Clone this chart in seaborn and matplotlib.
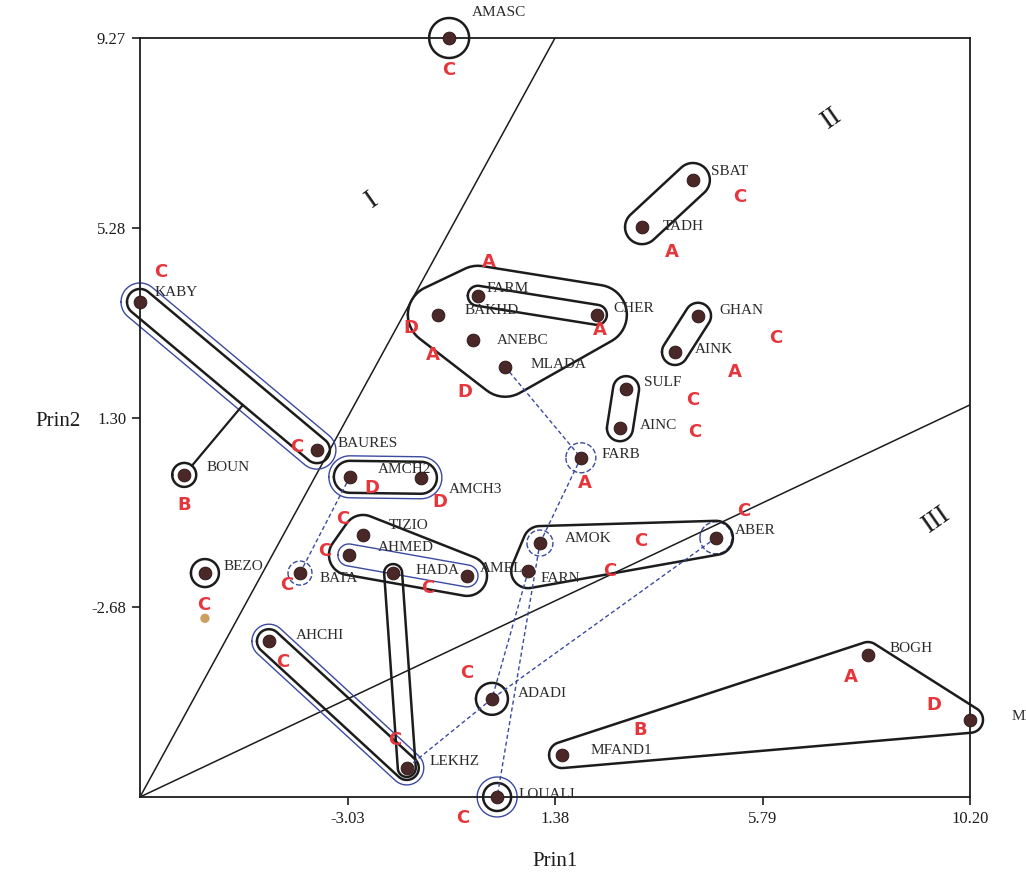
import numpy as np
import pandas as pd
import seaborn as sns
import matplotlib.pyplot as plt

# principal component scores
sites = ['AMASC', 'SBAT', 'TADH', 'KABY', 'FARM', 'BAKHD', 'ANEBC', 'MLADA',
         'CHER', 'GHAN', 'AINK', 'SULF', 'AINC', 'FARB', 'BAURES', 'BOUN',
         'AMCH2', 'AMCH3', 'TIZIO', 'AHMED', 'BATA', 'BEZO', 'HADA', 'AMEL',
         'AMOK', 'FARN', 'ABER', 'AHCHI', 'ADADI', 'BOGH', 'MFAND2', 'MFAND1',
         'LEKHZ', 'LOUALI']
prin1 = [-0.87, 4.31, 3.23, -7.44, -0.26, -1.11, -0.36, 0.32,
         2.27, 4.42, 3.93, 2.89, 2.76, 1.93, -3.68, -6.50,
         -2.98, -1.47, -2.70, -3.00, -4.04, -6.06, -2.06, -0.49,
         1.06, 0.81, 4.80, -4.70, 0.04, 8.03, 10.20, 1.53,
         -1.77, 0.15]
prin2 = [9.27, 6.29, 5.30, 3.73, 3.86, 3.46, 2.93, 2.37,
         3.46, 3.44, 2.68, 1.90, 1.08, 0.46, 0.62, 0.10,
         0.06, 0.04, -1.16, -1.58, -1.96, -1.96, -1.96, -2.02,
         -1.33, -1.92, -1.22, -3.39, -4.60, -3.68, -5.04, -5.78,
         -6.05, -6.66]
# hand written class letters (red)
grade = ['C', 'C', 'A', 'C', 'A', 'D', 'A', 'D',
         'A', 'C', 'A', 'C', 'C', 'A', 'C', 'B',
         'D', 'D', 'C', 'C', 'C', 'C', 'C', '',
         'C', 'C', 'C', 'C', 'C', 'A', 'D', 'B',
         'C', 'C']

xticks = [-3.03, 1.38, 5.79, 10.20]
yticks = [-2.68, 1.30, 5.28, 9.27]
xlim = (-7.44, 10.20)
ylim = (-6.66, 9.27)

# hand drawn dividing lines and zone numerals
zone_line_x = [[-7.44, 1.38], [-7.44, 10.20]]
zone_line_y = [[-6.66, 9.27], [-6.66, 1.57]]
zone_names = ['I', 'II', 'III']
zone_x = [-2.51, 7.27, 9.50]
zone_y = [5.87, 7.59, -0.85]

# hand drawn groupings (by site name)
black_groups = [['AMASC'], ['SBAT', 'TADH'], ['KABY', 'BAURES'], ['BOUN'],
                ['BAKHD', 'FARM', 'ANEBC', 'MLADA', 'CHER'], ['FARM', 'CHER'],
                ['GHAN', 'AINK'], ['SULF', 'AINC'], ['AMCH2', 'AMCH3'],
                ['TIZIO', 'AHMED', 'AMEL'], ['BEZO'], ['AMOK', 'FARN', 'ABER'],
                ['AHCHI', 'LEKHZ'], ['HADA', 'LEKHZ'], ['ADADI'], ['LOUALI'],
                ['BOGH', 'MFAND2', 'MFAND1']]
black_radius = [20, 17, 13, 12, 30, 10, 13, 13, 16, 20, 14, 17, 12, 9, 16, 14, 13]
blue_groups = [['KABY', 'BAURES'], ['AMCH2', 'AMCH3'], ['AHMED', 'AMEL'],
               ['AHCHI', 'LEKHZ'], ['LOUALI'], ['FARB'], ['BATA'], ['ABER'], ['AMOK']]
blue_radius = [19, 21, 11, 17, 20, 15, 12, 16, 13]
dashed_links = [['MLADA', 'FARB'], ['FARB', 'AMOK'], ['AMOK', 'LOUALI'],
                ['ABER', 'ADADI'], ['AMCH2', 'BATA'], ['FARN', 'ADADI'],
                ['ADADI', 'LEKHZ']]
# BOUN loop hangs off the KABY-BAURES loop
tails = [['BOUN', 'KABY', 'BAURES']]

df = pd.DataFrame({'site': sites, 'Prin1': prin1, 'Prin2': prin2, 'grade': grade})

# label / letter offsets in pixels (dx right, dy down)
label_off = {'AMASC': (23, -26), 'SBAT': (18, -8), 'TADH': (21, -1), 'KABY': (15, -9),
             'FARM': (9, -7), 'BAKHD': (27, -4), 'ANEBC': (24, 0), 'MLADA': (25, -2),
             'CHER': (16, -6), 'GHAN': (21, -5), 'AINK': (20, -2), 'SULF': (18, -7),
             'AINC': (20, -3), 'FARB': (21, -3), 'BAURES': (21, -7), 'BOUN': (22, -7),
             'AMCH2': (28, -7), 'AMCH3': (28, 12), 'TIZIO': (26, -9), 'AHMED': (29, -7),
             'BATA': (20, 5), 'BEZO': (19, -7), 'HADA': (22, -3), 'AMEL': (13, -7),
             'AMOK': (25, -5), 'FARN': (12, 7), 'ABER': (19, -7), 'AHCHI': (27, -6),
             'ADADI': (26, -5), 'BOGH': (22, -7), 'MFAND2': (42, -3), 'MFAND1': (28, -5),
             'LEKHZ': (23, -6), 'LOUALI': (21, -3)}
letter_off = {'AMASC': (0, 32), 'SBAT': (47, 17), 'TADH': (30, 25), 'KABY': (21, -30),
              'FARM': (11, -34), 'BAKHD': (-27, 13), 'ANEBC': (-40, 15), 'MLADA': (-40, 25),
              'CHER': (3, 15), 'GHAN': (78, 22), 'AINK': (60, 20), 'SULF': (67, 11),
              'AINC': (75, 4), 'FARB': (4, 25), 'BAURES': (-20, -3), 'BOUN': (0, 30),
              'AMCH2': (22, 11), 'AMCH3': (19, 24), 'TIZIO': (-20, -16), 'AHMED': (-24, -4),
              'BATA': (-13, 12), 'BEZO': (-1, 32), 'HADA': (35, 15), 'AMOK': (101, -2),
              'FARN': (82, 0), 'ABER': (28, -27), 'AHCHI': (14, 21), 'ADADI': (-25, -26),
              'BOGH': (-17, 22), 'MFAND2': (-36, -15), 'MFAND1': (78, -25),
              'LEKHZ': (-12, -28), 'LOUALI': (-34, 21)}

sns.set_style('white')
plt.rcParams['font.family'] = ['Liberation Serif', 'DejaVu Serif']

fig = plt.figure(figsize=(10.26, 8.86), dpi=100)
ax = fig.add_axes([140 / 1026, 1 - 797 / 886, 830 / 1026, 759 / 886])
ax.set_xlim(*xlim)
ax.set_ylim(*ylim)

ink = '#1c1c1c'
blue = '#3b4aa0'
red = '#e5363c'


def to_px(names):
    sub = df.set_index('site').loc[names]
    return ax.transData.transform(sub[['Prin1', 'Prin2']].to_numpy())


def back(p):
    return ax.transData.inverted().transform(np.atleast_2d(p))


def rounded_hull(names, r, **kw):
    # convex hull of the group grown by r pixels, drawn like a pen loop
    t = np.linspace(0, 2 * np.pi, 48, endpoint=False)
    ring = np.column_stack([np.cos(t), np.sin(t)]) * r
    pts = np.vstack([p + ring for p in to_px(names)])
    pts = sorted(map(tuple, pts))

    def cross(o, a, b):
        return (a[0] - o[0]) * (b[1] - o[1]) - (a[1] - o[1]) * (b[0] - o[0])

    lower, upper = [], []
    for p in pts:
        while len(lower) >= 2 and cross(lower[-2], lower[-1], p) <= 0:
            lower.pop()
        lower.append(p)
    for p in reversed(pts):
        while len(upper) >= 2 and cross(upper[-2], upper[-1], p) <= 0:
            upper.pop()
        upper.append(p)
    h = np.array(lower[:-1] + upper[:-1] + [lower[0]])
    d = back(h)
    ax.plot(d[:, 0], d[:, 1], clip_on=False, **kw)


# zone boundaries
for lx, ly in zip(zone_line_x, zone_line_y):
    ax.plot(lx, ly, color=ink, lw=1.1)
for name, zx, zy in zip(zone_names, zone_x, zone_y):
    ax.text(zx, zy, name, fontsize=20, rotation=35, ha='center', va='center', color=ink)

# enclosures
for g, r in zip(blue_groups, blue_radius):
    ls = '--' if len(g) == 1 and g[0] in ('FARB', 'BATA', 'ABER', 'AMOK') else '-'
    rounded_hull(g, r, color=blue, lw=1.0, ls=ls)
for g, r in zip(black_groups, black_radius):
    rounded_hull(g, r, color=ink, lw=1.8)
for a, b in dashed_links:
    p = back(to_px([a, b]))
    ax.plot(p[:, 0], p[:, 1], color=blue, lw=1.0, ls=(0, (3, 2)), clip_on=False)
for src, a, b in tails:
    s, pa, pb = to_px([src, a, b])
    u = pb - pa
    k = np.clip(np.dot(s - pa, u) / np.dot(u, u), 0, 1)
    foot = pa + k * u
    v = (foot - s) / np.linalg.norm(foot - s)
    seg = back([s + v * 12, foot - v * 13])
    ax.plot(seg[:, 0], seg[:, 1], color=ink, lw=1.6)

# points
sns.scatterplot(data=df, x='Prin1', y='Prin2', ax=ax, s=85, color='#4a2828',
                 edgecolor='#2a1414', linewidth=0.6, zorder=5, clip_on=False, legend=False)

for _, row in df.iterrows():
    dx, dy = label_off[row['site']]
    ax.annotate(row['site'], (row['Prin1'], row['Prin2']), xytext=(dx, -dy),
                textcoords='offset pixels', ha='left', va='center', fontsize=11,
                color='#2b2b2b', annotation_clip=False)
    if row['grade']:
        dx, dy = letter_off[row['site']]
        ax.annotate(row['grade'], (row['Prin1'], row['Prin2']), xytext=(dx, -dy),
                    textcoords='offset pixels', ha='center', va='center', fontsize=13,
                    fontweight='bold', family='DejaVu Sans', color=red,
                    annotation_clip=False, zorder=6)

# stray ink dot below BEZO
ax.scatter([prin1[sites.index('BEZO')]], [prin2[sites.index('BEZO')] - 0.95],
           s=45, color='#c0873a', alpha=0.8, edgecolor='none', clip_on=False)

ax.set_xticks(xticks)
ax.set_xticklabels(['%.2f' % v for v in xticks])
ax.set_yticks(yticks)
ax.set_yticklabels(['%.2f' % v for v in yticks])
ax.tick_params(direction='out', length=6, width=1.2, labelsize=12, colors=ink,
               bottom=True, left=True, pad=4)
for sp in ax.spines.values():
    sp.set_color(ink)
    sp.set_linewidth(1.3)

ax.set_xlabel('Prin1', fontsize=15, color=ink)
ax.xaxis.set_label_coords(0.5, -0.072)
ax.set_ylabel('Prin2', fontsize=15, color=ink, rotation=0, ha='center', va='center')
ax.yaxis.set_label_coords(-0.099, 0.495)

fig.savefig('out.png', dpi=100)
